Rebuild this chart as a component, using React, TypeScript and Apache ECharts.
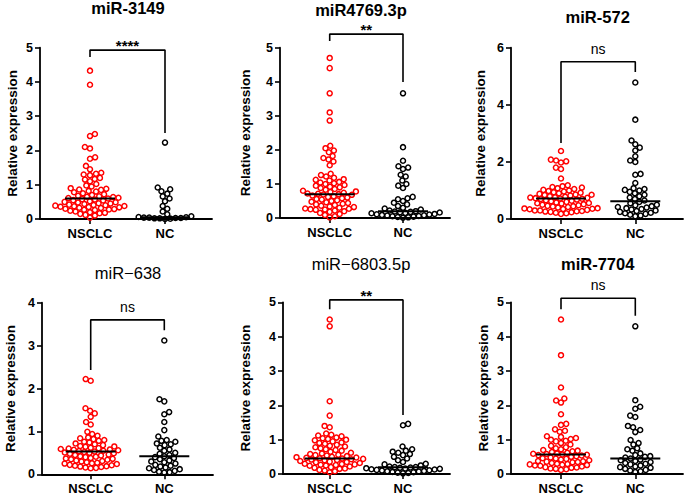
import React, { useEffect, useRef } from "react";
import * as echarts from "echarts";

// ---------- data ----------
const panelTitles = ["miR-3149", "miR4769.3p", "miR-572", "miR\u2212638", "miR\u22126803.5p", "miR-7704"];
const titleBold = [true, true, true, false, false, true];
const groupNames = ["NSCLC", "NC"];
const yAxisTitle = "Relative expression";
const yMaxes = [5, 5, 6, 4, 5, 5];
const yIntervals = [1, 1, 2, 1, 1, 1];
const significance = ["****", "**", "ns", "ns", "**", "ns"];

const nsclc3149 = [4.33, 3.92, 2.48, 2.42, 2.10, 2.06, 1.80, 1.76, 1.55, 1.45, 1.35, 1.32, 1.30, 1.28, 1.20, 1.17, 1.15, 1.10, 1.02, 0.98, 0.95, 0.90, 0.88, 0.86, 0.85, 0.82, 0.80, 0.78, 0.75, 0.72, 0.70, 0.68, 0.66, 0.65, 0.64, 0.62, 0.61, 0.60, 0.58, 0.57, 0.55, 0.54, 0.52, 0.50, 0.49, 0.48, 0.46, 0.45, 0.44, 0.42, 0.41, 0.40, 0.39, 0.38, 0.37, 0.36, 0.35, 0.34, 0.33, 0.32, 0.30, 0.29, 0.28, 0.27, 0.26, 0.24, 0.22, 0.20, 0.18, 0.17, 0.15, 0.12, 0.10, 0.04];
const nc3149 = [2.23, 0.92, 0.87, 0.81, 0.74, 0.66, 0.60, 0.52, 0.38, 0.30, 0.22, 0.14, 0.08, 0.06, 0.05, 0.04, 0.04, 0.03, 0.03, 0.02, 0.02, 0.01, 0.0];

const nsclc4769 = [4.70, 4.40, 3.66, 3.10, 2.86, 2.12, 2.05, 1.98, 1.93, 1.82, 1.76, 1.72, 1.66, 1.55, 1.30, 1.26, 1.22, 1.18, 1.14, 1.12, 1.10, 1.06, 1.04, 1.02, 1.00, 0.97, 0.95, 0.92, 0.90, 0.88, 0.85, 0.83, 0.80, 0.78, 0.76, 0.74, 0.72, 0.71, 0.70, 0.69, 0.68, 0.66, 0.64, 0.62, 0.60, 0.58, 0.56, 0.54, 0.52, 0.50, 0.48, 0.46, 0.44, 0.42, 0.40, 0.38, 0.36, 0.34, 0.32, 0.30, 0.28, 0.27, 0.26, 0.25, 0.24, 0.22, 0.20, 0.18, 0.15, 0.12, 0.09, 0.05, 0.02];
const nc4769 = [3.66, 2.08, 1.68, 1.52, 1.48, 1.44, 1.27, 1.22, 1.10, 1.00, 0.95, 0.88, 0.62, 0.58, 0.55, 0.50, 0.45, 0.40, 0.35, 0.30, 0.28, 0.25, 0.22, 0.20, 0.19, 0.18, 0.17, 0.16, 0.15, 0.14, 0.12, 0.11, 0.10, 0.09, 0.08, 0.07, 0.06, 0.05, 0.04, 0.03, 0.02, 0.01];

const nsclc572 = [2.38, 2.08, 2.05, 2.02, 1.98, 1.80, 1.75, 1.42, 1.18, 1.15, 1.12, 1.10, 1.08, 1.05, 1.02, 1.00, 0.98, 0.96, 0.94, 0.92, 0.90, 0.88, 0.86, 0.85, 0.84, 0.82, 0.80, 0.78, 0.76, 0.75, 0.74, 0.73, 0.72, 0.71, 0.70, 0.68, 0.66, 0.64, 0.62, 0.60, 0.58, 0.56, 0.55, 0.54, 0.52, 0.50, 0.48, 0.46, 0.45, 0.44, 0.42, 0.40, 0.38, 0.37, 0.36, 0.35, 0.34, 0.32, 0.30, 0.30, 0.28, 0.27, 0.26, 0.25, 0.24, 0.22, 0.20, 0.18];
const nc572 = [4.78, 3.48, 2.75, 2.62, 2.50, 2.40, 2.20, 2.05, 2.00, 1.58, 1.55, 1.26, 1.08, 1.05, 1.02, 1.00, 0.95, 0.90, 0.85, 0.80, 0.75, 0.70, 0.65, 0.60, 0.55, 0.50, 0.48, 0.45, 0.42, 0.40, 0.38, 0.35, 0.33, 0.30, 0.28, 0.25, 0.22, 0.20, 0.18, 0.15, 0.12, 0.10];

const nsclc638 = [2.22, 2.18, 1.54, 1.48, 1.42, 1.34, 1.22, 1.16, 0.99, 0.94, 0.90, 0.86, 0.84, 0.82, 0.80, 0.78, 0.76, 0.74, 0.72, 0.70, 0.68, 0.66, 0.65, 0.64, 0.62, 0.61, 0.60, 0.59, 0.58, 0.57, 0.56, 0.55, 0.54, 0.53, 0.52, 0.51, 0.50, 0.49, 0.48, 0.46, 0.45, 0.44, 0.42, 0.41, 0.40, 0.38, 0.37, 0.36, 0.35, 0.34, 0.32, 0.31, 0.30, 0.28, 0.27, 0.26, 0.25, 0.24, 0.22, 0.21, 0.20, 0.19, 0.18, 0.17, 0.16, 0.15, 0.14];
const nc638 = [3.12, 1.75, 1.70, 1.45, 1.40, 1.22, 1.03, 0.88, 0.80, 0.78, 0.76, 0.72, 0.70, 0.68, 0.62, 0.58, 0.55, 0.50, 0.48, 0.45, 0.42, 0.40, 0.38, 0.35, 0.32, 0.30, 0.28, 0.25, 0.22, 0.20, 0.18, 0.16, 0.14, 0.12, 0.10, 0.08, 0.06, 0.05, 0.04];

const nsclc6803 = [4.50, 4.30, 2.12, 1.70, 1.40, 1.36, 1.18, 1.14, 1.12, 1.10, 1.06, 1.04, 1.02, 1.00, 0.98, 0.95, 0.92, 0.90, 0.88, 0.85, 0.82, 0.80, 0.78, 0.75, 0.72, 0.70, 0.68, 0.65, 0.62, 0.60, 0.58, 0.56, 0.55, 0.54, 0.52, 0.50, 0.49, 0.48, 0.47, 0.46, 0.45, 0.44, 0.43, 0.42, 0.41, 0.40, 0.38, 0.36, 0.35, 0.34, 0.32, 0.30, 0.29, 0.28, 0.27, 0.26, 0.25, 0.24, 0.22, 0.20, 0.18, 0.16, 0.15, 0.12, 0.10, 0.08, 0.05];
const nc6803 = [1.46, 1.42, 0.80, 0.72, 0.68, 0.65, 0.62, 0.58, 0.55, 0.50, 0.45, 0.40, 0.35, 0.30, 0.28, 0.25, 0.22, 0.20, 0.20, 0.19, 0.18, 0.17, 0.16, 0.15, 0.14, 0.13, 0.12, 0.11, 0.10, 0.09, 0.08, 0.07, 0.06, 0.05, 0.04, 0.03, 0.02];

const nsclc7704 = [4.50, 3.46, 2.52, 2.20, 2.14, 2.08, 1.74, 1.46, 1.43, 1.30, 1.26, 1.23, 1.10, 1.08, 1.05, 1.02, 1.00, 0.97, 0.95, 0.90, 0.86, 0.82, 0.78, 0.75, 0.72, 0.70, 0.68, 0.66, 0.64, 0.62, 0.60, 0.59, 0.58, 0.57, 0.56, 0.55, 0.54, 0.52, 0.50, 0.48, 0.46, 0.45, 0.44, 0.42, 0.40, 0.38, 0.37, 0.36, 0.35, 0.34, 0.32, 0.30, 0.29, 0.28, 0.27, 0.26, 0.25, 0.24, 0.22, 0.20, 0.19, 0.18, 0.16, 0.15, 0.14, 0.12];
const nc7704 = [4.30, 2.15, 1.96, 1.90, 1.70, 1.66, 1.40, 1.36, 1.28, 1.22, 0.99, 0.90, 0.86, 0.75, 0.72, 0.68, 0.60, 0.55, 0.52, 0.50, 0.48, 0.45, 0.42, 0.40, 0.38, 0.35, 0.32, 0.30, 0.28, 0.25, 0.22, 0.20, 0.18, 0.15, 0.12, 0.10, 0.08, 0.06];

const nsclcSeries = [nsclc3149, nsclc4769, nsclc572, nsclc638, nsclc6803, nsclc7704];
const ncSeries = [nc3149, nc4769, nc572, nc638, nc6803, nc7704];
const nsclcMedians = [0.60, 0.70, 0.72, 0.53, 0.45, 0.57];
const ncMedians = [0.05, 0.20, 0.62, 0.42, 0.20, 0.45];
// bracket: [top, left leg end, right leg end] in y units
const brackets = [
  [4.93, 4.73, 2.51],
  [5.40, 5.20, 3.99],
  [5.51, 2.66, 5.15],
  [3.60, 2.43, 3.36],
  [5.07, 4.80, 1.72],
  [5.12, 4.80, 4.61],
];

// ---------- layout (pixels) ----------
const layout = [
  { left: 40, right: 212, top: 47.7, bottom: 219, c1: 90, c2: 165, tx: 128, ty: 8, yTitleX: 12 },
  { left: 280, right: 450, top: 47.7, bottom: 218, c1: 329.7, c2: 403, tx: 361, ty: 10, yTitleX: 245 },
  { left: 511, right: 683, top: 47.7, bottom: 219, c1: 561, c2: 635.3, tx: 597.7, ty: 16.5, yTitleX: 480 },
  { left: 42, right: 213, top: 302.7, bottom: 474.3, c1: 90.7, c2: 164.3, tx: 128, ty: 273, yTitleX: 10 },
  { left: 283, right: 450, top: 302.3, bottom: 474, c1: 329.7, c2: 403, tx: 361, ty: 264, yTitleX: 245 },
  { left: 511, right: 683, top: 302.3, bottom: 474, c1: 561, c2: 635.3, tx: 597.7, ty: 264, yTitleX: 483 },
];

const FONT = "'Liberation Sans', Arial, Helvetica, sans-serif";
const RED = "#ff0000";
const DOT = 5.3;

function swarm(values: number[], pxPerUnit: number, d: number): number[] {
  const idx = values.map((_, i) => i).sort((a, b) => values[a] - values[b]);
  const placed: { x: number; y: number }[] = [];
  const out: number[] = new Array(values.length).fill(0);
  let flip = 1;
  for (const i of idx) {
    const y = values[i] * pxPerUnit;
    const near = placed.filter((p) => Math.abs(p.y - y) < d);
    const cands: number[] = [0];
    for (const p of near) {
      const dx = Math.sqrt(d * d - (p.y - y) * (p.y - y));
      cands.push(p.x + dx, p.x - dx);
    }
    cands.sort((a, b) => {
      const da = Math.abs(a) - Math.abs(b);
      if (Math.abs(da) > 1e-6) return da;
      return flip * (b - a);
    });
    let chosen = 0;
    for (const c of cands) {
      if (near.every((p) => (p.x - c) * (p.x - c) + (p.y - y) * (p.y - y) >= d * d - 1e-6)) {
        chosen = c;
        break;
      }
    }
    if (chosen !== 0) flip = -flip;
    placed.push({ x: chosen, y });
    out[i] = chosen;
  }
  return out;
}

function buildOption() {
  const grid: any[] = [];
  const xAxis: any[] = [];
  const yAxis: any[] = [];
  const series: any[] = [];
  const graphic: any[] = [];

  layout.forEach((L, k) => {
    const len = L.right - L.left;
    const ppu = (L.bottom - L.top) / yMaxes[k];
    const x1 = L.c1 - L.left;
    const x2 = L.c2 - L.left;
    grid.push({ left: L.left, top: L.top, width: len, height: L.bottom - L.top, containLabel: false });
    xAxis.push({
      type: "value",
      gridIndex: k,
      min: 0,
      max: len,
      splitLine: { show: false },
      axisLine: { show: true, lineStyle: { color: "#000", width: 1.8 } },
      axisTick: { show: true, customValues: [x1, x2], length: 5, lineStyle: { color: "#000", width: 1.6 } },
      axisLabel: {
        show: true,
        customValues: [x1, x2],
        formatter: (v: number) => (Math.abs(v - x1) < 1 ? groupNames[0] : groupNames[1]),
        fontFamily: FONT,
        fontWeight: "bold",
        fontSize: 13,
        color: "#000",
        margin: 8,
      },
    });
    yAxis.push({
      type: "value",
      gridIndex: k,
      min: 0,
      max: yMaxes[k],
      interval: yIntervals[k],
      splitLine: { show: false },
      axisLine: { show: true, lineStyle: { color: "#000", width: 1.8 } },
      axisTick: { show: true, length: 5, lineStyle: { color: "#000", width: 1.6 } },
      axisLabel: { fontFamily: FONT, fontWeight: "bold", fontSize: 12.5, color: "#000", margin: 7 },
      name: yAxisTitle,
      nameLocation: "middle",
      nameGap: L.left - L.yTitleX - 7,
      nameTextStyle: { fontFamily: FONT, fontWeight: "bold", fontSize: 13.5, color: "#000" },
    });

    const s1 = swarm(nsclcSeries[k], ppu, DOT);
    const s2 = swarm(ncSeries[k], ppu, DOT);
    const mk = (vals: number[], offs: number[], cx: number) => vals.map((v, i) => [cx + offs[i], v]);
    series.push({
      type: "scatter",
      xAxisIndex: k,
      yAxisIndex: k,
      symbol: "circle",
      symbolSize: 5,
      itemStyle: { color: "rgba(255,255,255,0)", borderColor: RED, borderWidth: 1.5, opacity: 1 },
      data: mk(nsclcSeries[k], s1, x1),
      clip: false,
      z: 2,
    });
    series.push({
      type: "scatter",
      xAxisIndex: k,
      yAxisIndex: k,
      symbol: "circle",
      symbolSize: 5,
      itemStyle: { color: "rgba(255,255,255,0)", borderColor: "#000", borderWidth: 1.5, opacity: 1 },
      data: mk(ncSeries[k], s2, x2),
      clip: false,
      z: 2,
    });
    // medians
    [[x1, nsclcMedians[k]], [x2, ncMedians[k]]].forEach(([cx, m]) => {
      series.push({
        type: "line",
        xAxisIndex: k,
        yAxisIndex: k,
        symbol: "none",
        clip: false,
        lineStyle: { color: "#000", width: 2 },
        data: [[cx - 25, m], [cx + 25, m]],
        z: 3,
      });
    });
    // bracket
    const [bt, bl, br] = brackets[k];
    series.push({
      type: "line",
      xAxisIndex: k,
      yAxisIndex: k,
      symbol: "none",
      clip: false,
      lineStyle: { color: "#000", width: 1.6 },
      data: [[x1, bl], [x1, bt], [x2, bt], [x2, br]],
      z: 3,
    });
    const isNs = significance[k] === "ns";
    series.push({
      type: "scatter",
      xAxisIndex: k,
      yAxisIndex: k,
      symbolSize: 0,
      clip: false,
      silent: true,
      itemStyle: { opacity: 1 },
      data: [[(x1 + x2) / 2, bt]],
      label: {
        show: true,
        position: "top",
        distance: isNs ? 6 : -3,
        formatter: significance[k],
        fontFamily: FONT,
        fontWeight: isNs ? "normal" : "bold",
        fontSize: isNs ? 14 : 15,
        color: "#000",
        opacity: 1,
      },
    });
    graphic.push({
      type: "text",
      x: L.tx,
      y: L.ty,
      style: {
        text: panelTitles[k],
        fontFamily: FONT,
        fontWeight: titleBold[k] ? "bold" : "normal",
        fontSize: 16.5,
        fill: "#000",
        align: "center",
        verticalAlign: "middle",
        textAlign: "center",
        textVerticalAlign: "middle",
      },
    });
  });

  return {
    animation: false,
    backgroundColor: "#fff",
    textStyle: { fontFamily: FONT },
    grid,
    xAxis,
    yAxis,
    series,
    graphic,
  };
}

export default function App() {
  const ref = useRef<HTMLDivElement>(null);
  useEffect(() => {
    if (!ref.current) return;
    const chart = echarts.init(ref.current, undefined, { renderer: "svg" });
    chart.setOption(buildOption() as any);
    return () => chart.dispose();
  }, []);
  return (
    <div
      ref={ref}
      style={{ position: "fixed", left: 0, top: 0, width: 685, height: 496, background: "#fff" }}
    />
  );
}
